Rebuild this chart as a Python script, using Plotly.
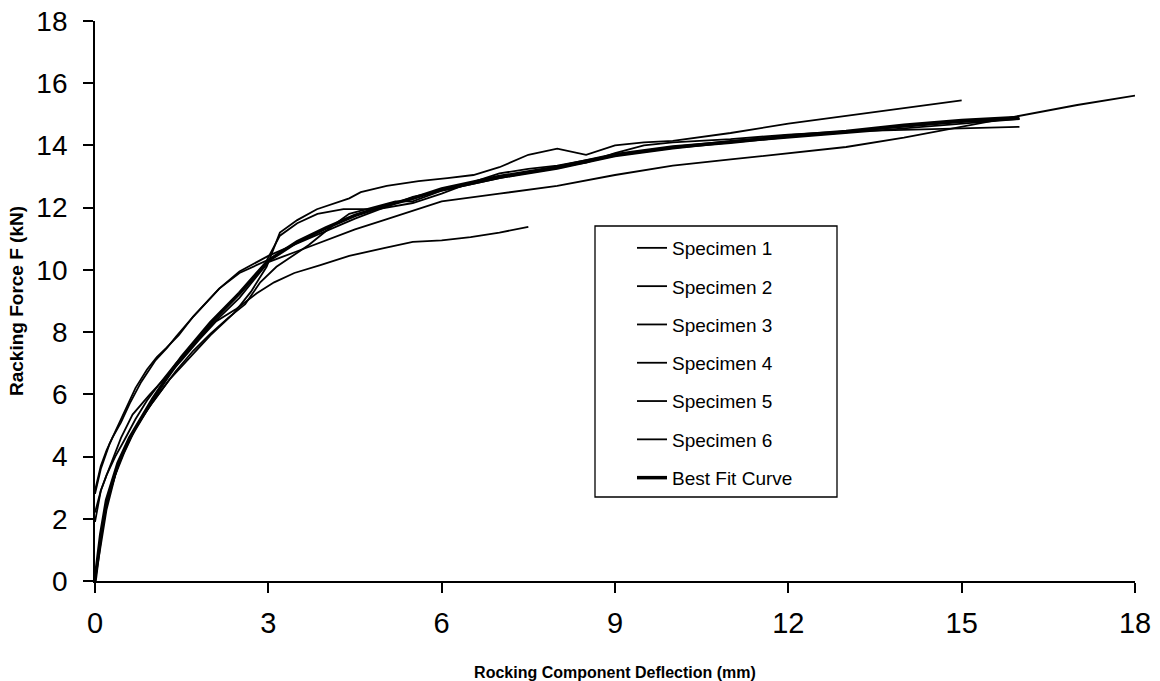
import plotly.graph_objects as go

# ---- data ----
s1_x = [0, 0.05, 0.1, 0.2, 0.3, 0.45, 0.65, 0.95, 1.2, 1.5, 1.8, 2.1, 2.45, 2.8, 3.1, 3.45, 3.9, 4.4, 5.0, 5.5, 6.0, 6.5, 7.0, 7.5]
s1_y = [1.9, 2.4, 2.9, 3.4, 3.9, 4.6, 5.35, 6.0, 6.5, 7.1, 7.75, 8.35, 8.75, 9.25, 9.6, 9.9, 10.15, 10.45, 10.7, 10.9, 10.95, 11.05, 11.2, 11.38]

s2_x = [0, 0.1, 0.2, 0.4, 0.6, 0.8, 1.0, 1.3, 1.6, 2.0, 2.4, 2.7, 2.97, 3.2, 3.5, 3.84, 4.4, 4.6, 5.05, 5.6, 6.1, 6.55, 7.0, 7.5, 8.0, 8.5, 9.0, 9.5, 10.0, 11.0, 12.0, 13.0, 14.0, 15.0]
s2_y = [0, 1.4, 2.5, 3.7, 4.6, 5.2, 5.75, 6.5, 7.1, 7.9, 8.6, 9.3, 10.1, 11.2, 11.6, 11.95, 12.3, 12.5, 12.7, 12.85, 12.95, 13.05, 13.3, 13.7, 13.9, 13.7, 14.0, 14.1, 14.15, 14.4, 14.7, 14.95, 15.2, 15.45]

s3_x = [0, 0.1, 0.2, 0.35, 0.5, 0.7, 0.9, 1.1, 1.4, 1.7, 2.0, 2.5, 3.0, 3.5, 4.0, 4.5, 5.0, 5.5, 6.0, 7.0, 8.0, 9.0, 10.0, 11.0, 12.0, 13.0, 14.0, 15.0, 16.0, 17.0, 18.0]
s3_y = [2.2, 2.9, 3.4, 4.0, 4.5, 5.2, 5.8, 6.3, 7.0, 7.6, 8.2, 9.1, 10.25, 10.6, 10.95, 11.3, 11.6, 11.9, 12.2, 12.45, 12.7, 13.05, 13.35, 13.55, 13.75, 13.95, 14.25, 14.6, 14.95, 15.3, 15.6]

s4_x = [0, 0.05, 0.1, 0.2, 0.3, 0.45, 0.6, 0.8, 1.05, 1.25, 1.4, 1.7, 2.15, 2.5, 3.0, 3.5, 4.0, 4.5, 5.0, 5.5, 6.0, 7.0, 8.0, 8.5, 9.0, 9.5, 10.0, 11.0, 12.0, 13.0, 14.0, 15.0, 16.0]
s4_y = [2.9, 3.3, 3.7, 4.2, 4.6, 5.1, 5.7, 6.4, 7.1, 7.5, 7.85, 8.5, 9.4, 9.95, 10.45, 10.85, 11.25, 11.65, 12.0, 12.35, 12.55, 12.95, 13.3, 13.45, 13.75, 14.0, 14.1, 14.2, 14.35, 14.45, 14.5, 14.55, 14.6]

s5_x = [0, 0.1, 0.2, 0.35, 0.5, 0.7, 0.9, 1.1, 1.4, 1.7, 2.0, 2.3, 2.6, 2.86, 3.14, 3.7, 4.1, 4.4, 4.8, 5.2, 5.5, 5.7, 6.0, 7.0, 8.0, 9.0, 10.0, 11.0, 12.0, 13.0, 14.0, 15.0, 16.0]
s5_y = [0, 1.2, 2.3, 3.4, 4.1, 4.9, 5.5, 6.0, 6.75, 7.4, 7.95, 8.45, 8.9, 9.6, 10.1, 10.8, 11.4, 11.8, 12.0, 12.2, 12.2, 12.35, 12.55, 12.95, 13.25, 13.65, 13.9, 14.1, 14.25, 14.4, 14.55, 14.7, 14.85]

s6_x = [0, 0.1, 0.25, 0.45, 0.7, 0.9, 1.07, 1.24, 1.45, 1.7, 2.15, 2.5, 2.97, 3.2, 3.5, 3.85, 4.3, 4.9, 5.5, 6.0, 6.5, 7.0, 7.5, 8.0, 9.0, 10.0, 11.0, 12.0, 13.0, 14.0, 15.0, 16.0]
s6_y = [2.8, 3.6, 4.4, 5.2, 6.2, 6.8, 7.2, 7.5, 7.9, 8.5, 9.4, 9.9, 10.3, 11.1, 11.5, 11.8, 11.95, 11.95, 12.15, 12.45, 12.8, 13.1, 13.25, 13.35, 13.7, 13.95, 14.15, 14.3, 14.45, 14.6, 14.75, 14.85]

fit_x = [0, 0.1, 0.2, 0.4, 0.6, 0.8, 1.0, 1.25, 1.5, 1.75, 2.0, 2.5, 3.0, 3.5, 4.0, 4.5, 5.0, 5.5, 6.0, 7.0, 8.0, 9.0, 10.0, 11.0, 12.0, 13.0, 14.0, 15.0, 16.0]
fit_y = [0, 1.5, 2.6, 3.8, 4.6, 5.25, 5.85, 6.55, 7.2, 7.75, 8.3, 9.25, 10.3, 10.9, 11.35, 11.75, 12.05, 12.3, 12.6, 13.0, 13.3, 13.7, 13.95, 14.1, 14.3, 14.45, 14.65, 14.8, 14.9]

series_names = ["Specimen 1", "Specimen 2", "Specimen 3", "Specimen 4", "Specimen 5", "Specimen 6"]
series_x = [s1_x, s2_x, s3_x, s4_x, s5_x, s6_x]
series_y = [s1_y, s2_y, s3_y, s4_y, s5_y, s6_y]

x_ticks = [0, 3, 6, 9, 12, 15, 18]
y_ticks = [0, 2, 4, 6, 8, 10, 12, 14, 16, 18]

FONT = "Arial, Liberation Sans, Helvetica, sans-serif"

fig = go.Figure()
for nm, xs, ys in zip(series_names, series_x, series_y):
    fig.add_trace(go.Scatter(x=xs, y=ys, mode="lines", name=nm, legendgroup=nm,
                             line=dict(color="black", width=1.8)))
fig.add_trace(go.Scatter(x=fit_x, y=fit_y, mode="lines", name="Best Fit Curve",
                         legendgroup="fit", line=dict(color="black", width=3.5)))

W, H = 1160, 681
L, R, T, B = 95, 25, 21, 100
pw, ph = W - L - R, H - T - B


def px2paper(px, py):
    return (px - L) / pw, (H - B - py) / ph


lx0, ly0 = px2paper(595, 226)
lx1, ly1 = px2paper(837, 497)
legx, legy = px2paper(632, 229)

fig.update_layout(
    width=W, height=H,
    margin=dict(l=L, r=R, t=T, b=B, autoexpand=False),
    plot_bgcolor="white", paper_bgcolor="white",
    font=dict(family=FONT, color="black"),
    showlegend=True,
    legend=dict(x=legx, y=legy, xanchor="left", yanchor="top",
                bgcolor="rgba(0,0,0,0)", borderwidth=0,
                font=dict(size=19, family=FONT, color="black"),
                traceorder="grouped", tracegroupgap=10.6),
    shapes=[dict(type="rect", xref="paper", yref="paper",
                 x0=lx0, x1=lx1, y0=ly1, y1=ly0,
                 line=dict(color="black", width=1.3), fillcolor="rgba(0,0,0,0)")],
)
fig.update_xaxes(range=[0, 18], tickvals=x_ticks, ticks="outside", ticklen=10, tickwidth=1.5,
                 tickcolor="black", showline=True, linecolor="black", linewidth=1.8,
                 showgrid=False, zeroline=False, tickfont=dict(size=29, family=FONT),
                 ticklabelstandoff=5, automargin=False,
                 title=dict(text="Rocking Component Deflection (mm)",
                            font=dict(size=16, family=FONT, weight="bold"), standoff=31))
fig.update_yaxes(range=[0, 18], tickvals=y_ticks, ticks="outside", ticklen=10, tickwidth=1.5,
                 tickcolor="black", showline=True, linecolor="black", linewidth=1.8,
                 showgrid=False, zeroline=False, tickfont=dict(size=28, family=FONT),
                 ticklabelstandoff=10, automargin=False,
                 title=dict(text="Racking Force F (kN)",
                            font=dict(size=19, family=FONT, weight="bold"), standoff=8))

fig.write_html("out.html")
